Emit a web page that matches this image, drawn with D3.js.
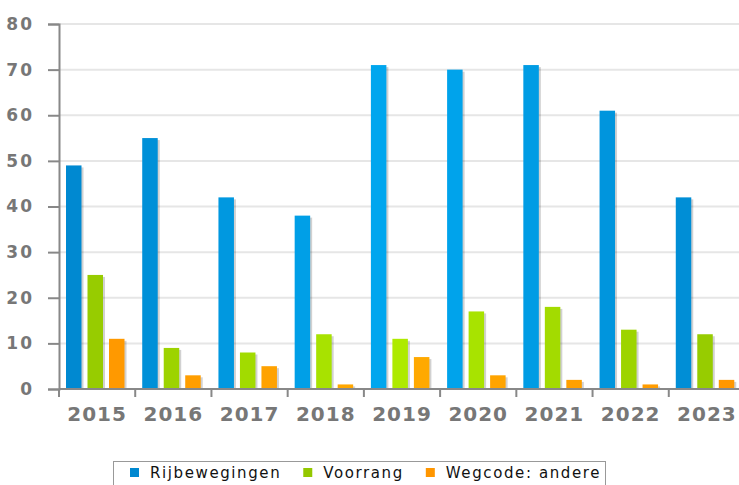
<!DOCTYPE html>
<html>
<head>
<meta charset="utf-8">
<script src="https://cdn.jsdelivr.net/npm/d3@7"></script>
<style>
  body { margin: 0; background: #fff; overflow: hidden; }
  svg { display: block; font-family: "DejaVu Sans", sans-serif; }
</style>
</head>
<body>
<div id="chart"></div>
<script>
// data
const years = ['2015', '2016', '2017', '2018', '2019', '2020', '2021', '2022', '2023']
const seriesNames = ['Rijbewegingen', 'Voorrang', 'Wegcode: andere']
const rijbewegingen = [49, 55, 42, 38, 71, 70, 71, 61, 42]
const voorrang = [25, 9, 8, 12, 11, 17, 18, 13, 12]
const wegcode = [11, 3, 5, 1, 7, 3, 2, 1, 2]
const yTicks = [0, 10, 20, 30, 40, 50, 60, 70, 80]

// kleuren: rand / midden (lichter in het midden van de grafiek)
const colors = [
    { edge: '#0088d0', mid: '#00a8f0' },
    { edge: '#94c800', mid: '#aeea00' },
    { edge: '#ff9600', mid: '#ffaa00' }
]

const W = 739, H = 485
const margin = { top: 24, left: 59 }
const plotW = 686   // loopt iets voorbij de rechterrand
const plotH = 365

const allSeries = [rijbewegingen, voorrang, wegcode]
const table = years.map((y, i) => ({ year: y, values: allSeries.map(s => s[i]) }))

const svg = d3.select('#chart').append('svg')
    .attr('width', W).attr('height', H)

const g = svg.append('g').attr('transform', `translate(${margin.left},${margin.top})`)

const band = d3.scaleBand().domain(years).range([0, plotW])
const y = d3.scaleLinear().domain([0, 80]).range([plotH, 0])
const shade = colors.map(c => d3.scaleLinear()
    .domain([0, plotW / 2, plotW]).range([c.edge, c.mid, c.edge]))

// grid
g.append('g').selectAll('line').data(yTicks.slice(1)).join('line')
    .attr('x1', 0).attr('x2', plotW)
    .attr('y1', d => y(d)).attr('y2', d => y(d))
    .attr('stroke', '#e6e6e6').attr('stroke-width', 2)

// bars
const bw = 15.5, step = 21.5, offset = 7
const bars = table.flatMap(d => d.values.map((v, i) => ({
    v, i, year: d.year, x: band(d.year) + offset + i * step
})))

g.selectAll('.shadow').data(bars).join('rect')
    .attr('class', 'shadow')
    .attr('x', d => d.x + 2)
    .attr('y', d => y(d.v) + 2)
    .attr('width', bw)
    .attr('height', d => Math.max(0, plotH - y(d.v) - 2))
    .attr('fill', '#000').attr('opacity', 0.18)

g.selectAll('.bar').data(bars).join('rect')
    .attr('class', 'bar')
    .attr('x', d => d.x)
    .attr('y', d => y(d.v))
    .attr('width', bw)
    .attr('height', d => plotH - y(d.v))
    .attr('fill', d => shade[d.i](d.x + bw / 2))

// y axis
const yAxis = d3.axisLeft(y).tickValues(yTicks).tickSize(11).tickPadding(14)
const yAxisDraw = g.append('g').call(yAxis)
yAxisDraw.select('.domain').attr('stroke', '#888').attr('stroke-width', 2)
yAxisDraw.selectAll('.tick line').attr('stroke', '#888').attr('stroke-width', 2)
yAxisDraw.selectAll('text')
    .attr('fill', '#777').style('font-size', '17px').style('font-weight', 'bold')
    .style('letter-spacing', '2px').style('font-family', '"DejaVu Sans", sans-serif')

// x axis
const xAxisDraw = g.append('g').attr('transform', `translate(0,${plotH})`)
xAxisDraw.append('line').attr('x1', 0).attr('x2', plotW)
    .attr('stroke', '#888').attr('stroke-width', 2)
xAxisDraw.selectAll('.xt').data(years).join('line')
    .attr('class', 'xt')
    .attr('x1', d => band(d)).attr('x2', d => band(d))
    .attr('y1', 0).attr('y2', 8)
    .attr('stroke', '#888').attr('stroke-width', 2)
xAxisDraw.selectAll('.xl').data(years).join('text')
    .attr('class', 'xl')
    .attr('x', d => band(d) + band.bandwidth() / 2)
    .attr('y', 32)
    .attr('text-anchor', 'middle')
    .attr('fill', '#777')
    .style('font-size', '20px').style('font-weight', 'bold')
    .style('letter-spacing', '1px')
    .text(d => d)

// legend
const legend = svg.append('g').attr('transform', 'translate(113,461)')
legend.append('rect').attr('x', 0.5).attr('y', 0.5).attr('width', 492).attr('height', 40)
    .attr('fill', '#fff').attr('stroke', '#999')
let lx = 17
seriesNames.forEach((name, i) => {
    legend.append('rect').attr('x', lx).attr('y', 7).attr('width', 9).attr('height', 9)
        .attr('fill', colors[i].edge)
    const t = legend.append('text').attr('x', lx + 20).attr('y', 17)
        .attr('fill', '#111').style('font-size', '15px').style('letter-spacing', '1.6px')
        .text(name)
    lx += 20 + t.node().getComputedTextLength() + 22
})
</script>
</body>
</html>
